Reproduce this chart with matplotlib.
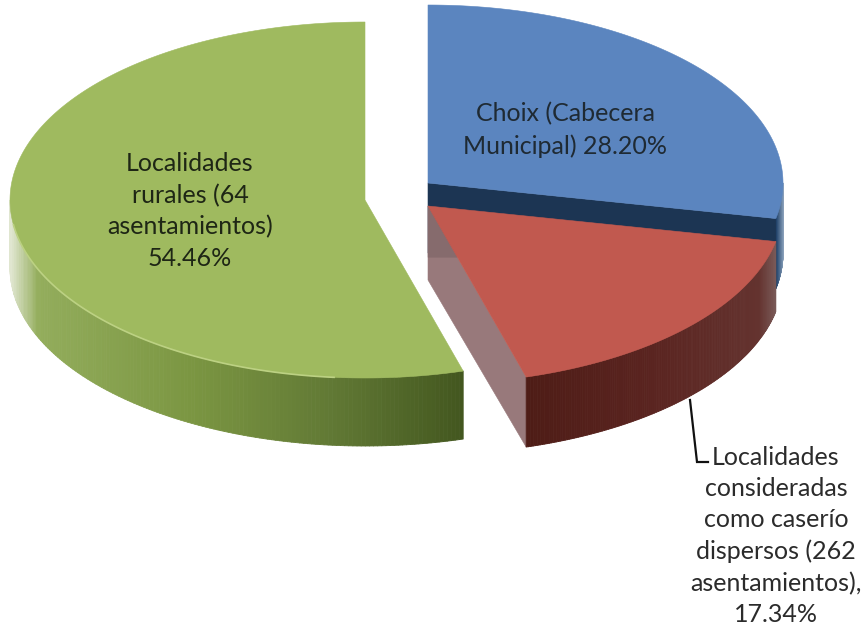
import numpy as np
import matplotlib
matplotlib.use('Agg')
import matplotlib.pyplot as plt
from matplotlib.collections import PolyCollection
from matplotlib.colors import LinearSegmentedColormap
from matplotlib.patches import Polygon

plt.rcParams['font.family'] = ['Lato', 'DejaVu Sans']

# values, in clockwise order from 12 o'clock
shares = [28.20, 17.34, 54.46]
labels = ['Choix (Cabecera\nMunicipal) 28.20%',
          'Localidades\nconsideradas\ncomo caserío\ndispersos (262\nasentamientos),\n17.34%',
          'Localidades\nrurales (64\nasentamientos)\n54.46%']
top_colors = ['#5b85bf', '#c1594f', '#9fba5f']
wall_colors = [['#24466e', '#8ea4bd'],
               ['#4e1c16', '#5a2420', '#64332f', '#7a5a58'],
               ['#e0e6d0', '#93ad5c', '#7b9642', '#627a35', '#43571f']]
wall_stops = [[0.0, 1.0], [0.0, 0.5, 0.93, 1.0], [0.0, 0.06, 0.4, 0.7, 1.0]]

# pie geometry in pixels of the figure
apex = [(428, 183), (428, 206), (365, 200)]
rx, ry = 355, 178
depth = [70, 70, 68]


def ellipse_pts(cx, cy, angles):
    # angles in degrees, clockwise from the top of the pie
    t = np.radians(angles)
    return np.column_stack([cx + rx * np.sin(t), cy - ry * np.cos(t)])


def draw_wall(ax, cx, cy, start, stop, colors, stops, h):
    # outer rim, only the part which faces the viewer
    a = max(start, 90)
    b = min(stop, 270)
    if b <= a:
        return
    pts = ellipse_pts(cx, cy, np.linspace(a, b, 160))
    cmap = LinearSegmentedColormap.from_list('wall', list(zip(stops, colors)))
    xmin, xmax = pts[:, 0].min(), pts[:, 0].max()
    quads = []
    cols = []
    for p, q in zip(pts[:-1], pts[1:]):
        quads.append([p, q, q + [0, h], p + [0, h]])
        frac = (0.5 * (p[0] + q[0]) - xmin) / (xmax - xmin)
        cols.append(cmap(frac))
    ax.add_collection(PolyCollection(quads, facecolors=cols, edgecolors=cols, linewidths=0.6))


def draw_top(ax, cx, cy, start, stop, color):
    pts = ellipse_pts(cx, cy, np.linspace(start, stop, 240))
    ax.add_patch(Polygon(np.vstack([[cx, cy], pts]), closed=True, fc=color, ec=color, lw=0.4))


fig = plt.figure(figsize=(8.66, 6.30), dpi=100)
ax = fig.add_axes([0, 0, 1, 1])
ax.set_xlim(0, 866)
ax.set_ylim(630, 0)
ax.axis('off')

edges = np.concatenate([[0], np.cumsum(shares)]) / sum(shares) * 360

# green slice first, it sits behind the gap
draw_wall(ax, *apex[2], edges[2], edges[3], wall_colors[2], wall_stops[2], depth[2])
draw_top(ax, *apex[2], edges[2], edges[3], top_colors[2])
rim = ellipse_pts(*apex[2], np.linspace(185, 262, 80))
ax.plot(rim[:, 0], rim[:, 1], color='#bcd183', lw=1.2)

# blue slice with its dark cut face
draw_wall(ax, *apex[0], edges[0], edges[1], wall_colors[0], wall_stops[0], depth[0])
corner = ellipse_pts(*apex[0], [edges[1]])[0]
a0 = np.array(apex[0], dtype=float)
ax.add_patch(Polygon([a0, corner, corner + [0, depth[0]], a0 + [0, depth[0]]], closed=True,
                     fc='#1c3553', ec='#1c3553', lw=0.4))
draw_top(ax, *apex[0], edges[0], edges[1], top_colors[0])

# red slice, the cut face shows two tones of grey
a1 = np.array(apex[1], dtype=float)
corner = ellipse_pts(*apex[1], [edges[2]])[0]
ax.add_patch(Polygon([a1, corner, corner + [0, depth[1]], a1 + [0, depth[1] + 4]], closed=True,
                     fc='#98797b', ec='#98797b', lw=0.4))
along = a1 + (corner - a1) * 0.30
ax.add_patch(Polygon([a1, along, [a1[0], along[1]]], closed=True, fc='#866b6d', ec='#866b6d', lw=0.3))
draw_wall(ax, *apex[1], edges[1], edges[2], wall_colors[1], wall_stops[1], depth[1])
draw_top(ax, *apex[1], edges[1], edges[2], top_colors[1])

# leader line of the red label
ax.plot([690, 697, 708], [400, 462, 462], color='#111111', lw=1.6, solid_joinstyle='miter')

ax.text(565, 130, labels[0], ha='center', va='center', fontsize=18, color='#1f2a33', linespacing=1.43)
ax.text(776, 536, labels[1], ha='center', va='center', fontsize=18, color='#2b2b2b', linespacing=1.43)
ax.text(190, 211, labels[2], ha='center', va='center', fontsize=18, color='#1e2615', linespacing=1.43)

fig.savefig('out.png', dpi=100)
